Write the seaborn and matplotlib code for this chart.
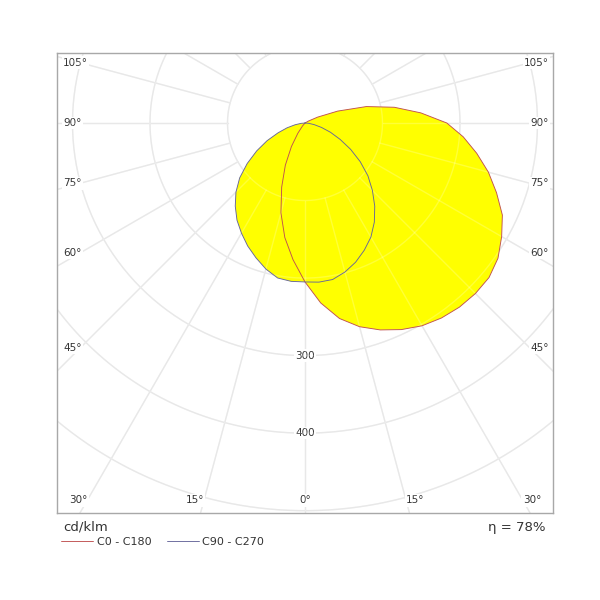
import numpy as np
import matplotlib
matplotlib.use("Agg")
import matplotlib.pyplot as plt
import seaborn as sns

# Curva fotométrica (cd/klm) - C0/C180 e C90/C270
sns.set_style("white")
plt.rcParams['font.family'] = ['DejaVu Sans']

# Plano C0 (lado direito) e C180 (lado esquerdo)
gamma_c0 = [0, 5, 10, 15, 20, 25, 30, 35, 40, 45, 50, 55, 60, 65, 70, 75, 80, 85, 90,
            95, 100, 105, 110, 115, 120, 125]
i_c0 = [205, 233, 256, 272, 284, 294, 302, 307, 310, 311, 310, 304, 293, 281, 263, 245,
        225, 205, 183, 150, 117, 82, 45, 18, 5, 0]
gamma_c180 = [0, 5, 10, 15, 20, 25, 30, 35, 40, 45]
i_c180 = [205, 177, 150, 120, 88, 60, 35, 16, 5, 0]

# Plano C90 (lado direito) e C270 (lado esquerdo)
gamma_c90 = [0, 5, 10, 15, 20, 25, 30, 35, 40, 45, 50, 55, 60, 65, 70, 75, 80, 85, 90]
i_c90 = [205, 206, 205, 199, 191, 181, 170, 156, 140, 123, 106, 87, 68, 50, 35, 22, 12, 5, 0]
gamma_c270 = [0, 5, 10, 15, 20, 25, 30, 35, 40, 45, 50, 55, 60, 65, 70, 75, 80, 85, 90]
i_c270 = [205, 205, 203, 195, 185, 175, 164, 153, 140, 126, 110, 91, 72, 54, 37, 24, 13, 5, 0]

grid_radii = [100, 200, 300, 400, 500]
radius_labels = [300, 400]
side_angles = [45, 60, 75, 90, 105]
bottom_angles = [15, 30]
eta = 78

PX = 0.775  # pixels por cd/klm


def to_xy(gamma, intensity, side):
    g = np.radians(gamma)
    i = np.asarray(intensity, dtype=float)
    return side * i * np.sin(g), -i * np.cos(g)


def closed_curve(g_right, i_right, g_left, i_left):
    xr, yr = to_xy(g_right, i_right, 1)
    xl, yl = to_xy(g_left, i_left, -1)
    x = np.concatenate([xl[::-1], xr[1:]])
    y = np.concatenate([yl[::-1], yr[1:]])
    return x, y


fig = plt.figure(figsize=(6, 6), dpi=100)
ax = fig.add_axes([57 / 600, 87 / 600, 496 / 600, 460 / 600])

# grade polar
theta = np.linspace(0, 2 * np.pi, 500)
grid_lines = []
for r in grid_radii:
    grid_lines.append((r * np.cos(theta), r * np.sin(theta)))
for a in range(0, 360, 15):
    t = np.radians(a)
    grid_lines.append((np.array([100, 900]) * np.sin(t), -np.array([100, 900]) * np.cos(t)))
for gx, gy in grid_lines:
    ax.plot(gx, gy, color='#e2e2e2', lw=1.0, zorder=0)

x0, y0 = closed_curve(gamma_c0, i_c0, gamma_c180, i_c180)
x90, y90 = closed_curve(gamma_c90, i_c90, gamma_c270, i_c270)

ax.fill(x0, y0, color='#ffff00', lw=0, zorder=1)
ax.fill(x90, y90, color='#ffff00', lw=0, zorder=1)

# grade clara por cima do amarelo
for gx, gy in grid_lines:
    ax.plot(gx, gy, color='white', lw=1.0, alpha=0.22, zorder=2)

sns.lineplot(x=x0, y=y0, sort=False, estimator=None, color='#c05050', lw=0.65,
             ax=ax, zorder=3, label='C0 - C180', legend=False)
sns.lineplot(x=x90, y=y90, sort=False, estimator=None, color='#66669a', lw=0.65,
             ax=ax, zorder=3, label='C90 - C270', legend=False)

ax.set_xlim(-320, 320)
ax.set_ylim(-503, 90.3)
ax.set_xticks([])
ax.set_yticks([])
for s in ax.spines.values():
    s.set_visible(True)
    s.set_color('#a8a8a8')
    s.set_linewidth(1.0)

lab = dict(fontsize=7.5, color='#333333', va='center', zorder=0.5,
           bbox=dict(facecolor='white', edgecolor='none', pad=1.0))

for r in radius_labels:
    ax.text(0, -r, str(r), ha='center', **lab)

x_left = (63 - 305) / PX
x_right = (549 - 305) / PX
for a in side_angles:
    y = -290 / np.tan(np.radians(a)) if a != 90 else 0
    ax.text(x_left, y, f'{a}°', ha='left', **lab)
    ax.text(x_right, y, f'{a}°', ha='right', **lab)

y_bottom = (123 - 500) / PX
ax.text(0, y_bottom, '0°', ha='center', **lab)
for a in bottom_angles:
    xb = -y_bottom * np.tan(np.radians(a))
    ax.text(-xb, y_bottom, f'{a}°', ha='right', **lab)
    ax.text(xb, y_bottom, f'{a}°', ha='left', **lab)

fig.text(63 / 600, 1 - 527 / 600, 'cd/klm', fontsize=9.5, color='#333333', va='center')
fig.text(546 / 600, 1 - 527 / 600, f'η = {eta}%', fontsize=9.5, color='#333333',
         va='center', ha='right')

handles, labels = ax.get_legend_handles_labels()
fig.legend(handles, labels, loc='center left', bbox_to_anchor=(61 / 600, 1 - 542 / 600),
           ncol=2, frameon=False, fontsize=8, handlelength=2.9, handletextpad=0.3,
           columnspacing=1.4, borderpad=0, borderaxespad=0, labelcolor='#333333')

fig.savefig('out.png', dpi=100, facecolor='white')
